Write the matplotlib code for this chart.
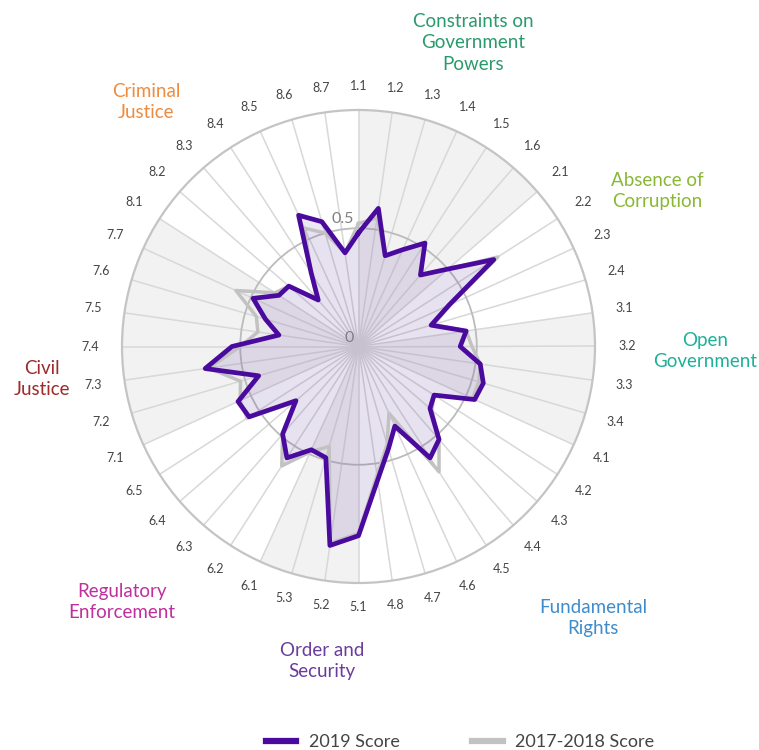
import numpy as np
import matplotlib
matplotlib.use('Agg')
import matplotlib.pyplot as plt
from matplotlib.lines import Line2D

plt.rcParams['font.family'] = ['Lato', 'DejaVu Sans']

# ---------------- data ----------------
subfactors = ['1.1', '1.2', '1.3', '1.4', '1.5', '1.6',
              '2.1', '2.2', '2.3', '2.4',
              '3.1', '3.2', '3.3', '3.4',
              '4.1', '4.2', '4.3', '4.4', '4.5', '4.6', '4.7', '4.8',
              '5.1', '5.2', '5.3',
              '6.1', '6.2', '6.3', '6.4', '6.5',
              '7.1', '7.2', '7.3', '7.4', '7.5', '7.6', '7.7',
              '8.1', '8.2', '8.3', '8.4', '8.5', '8.6', '8.7']

score_2019 = [0.48, 0.59, 0.40, 0.45, 0.52, 0.40,
              0.50, 0.68, 0.42, 0.32,
              0.46, 0.43, 0.52, 0.55,
              0.54, 0.38, 0.40, 0.52, 0.56, 0.37, 0.45, 0.57,
              0.80, 0.85, 0.49,
              0.48, 0.56, 0.49, 0.35, 0.55,
              0.56, 0.44, 0.655, 0.535, 0.34, 0.41, 0.49,
              0.40, 0.39, 0.26, 0.37, 0.61, 0.55, 0.40]

score_2017_2018 = [0.52, 0.55, 0.40, 0.45, 0.52, 0.40,
                   0.50, 0.70, 0.43, 0.33,
                   0.46, 0.48, 0.52, 0.53,
                   0.53, 0.38, 0.41, 0.52, 0.63, 0.31, 0.43, 0.55,
                   0.79, 0.84, 0.44,
                   0.49, 0.60, 0.49, 0.36, 0.56,
                   0.55, 0.52, 0.64, 0.50, 0.43, 0.45, 0.57,
                   0.42, 0.39, 0.27, 0.37, 0.55, 0.50, 0.40]

factor_names = ['Constraints on\nGovernment\nPowers', 'Absence of\nCorruption',
                'Open\nGovernment', 'Fundamental\nRights', 'Order and\nSecurity',
                'Regulatory\nEnforcement', 'Civil\nJustice', 'Criminal\nJustice']
factor_colors = ['#2a9a6c', '#8ab833', '#1fb09a', '#3f8ccc',
                 '#6a3c9c', '#bf2f9e', '#9e2a2a', '#ef8b3c']

series_names = ['2019 Score', '2017-2018 Score']
series_colors = ['#4b0a9e', '#c2c2c2']

# ---------------- layout (pixels) ----------------
W, H = 759, 750
CX, CY, R = 358.5, 346.5, 236.5
factor_label_px = [(473, 43), (657, 191), (705, 351), (593, 618),
                   (322, 661), (122, 602), (42, 379), (146, 102)]

fig = plt.figure(figsize=(W / 100, H / 100), dpi=100)
ax = fig.add_axes([(CX - R) / W, 1 - (CY + R) / H, 2 * R / W, 2 * R / H],
                  projection='polar')
ax.set_theta_zero_location('N')
ax.set_theta_direction(-1)
ax.set_ylim(0, 1)

n = len(subfactors)
theta = np.arange(n) * 2 * np.pi / n
step = 2 * np.pi / n

# alternating factor bands
factor_ids = [s.split('.')[0] for s in subfactors]
unique_f = list(dict.fromkeys(factor_ids))
for k, f in enumerate(unique_f):
    idx = [i for i, g in enumerate(factor_ids) if g == f]
    if k % 2 == 0:
        ax.bar(theta[idx[0]], 1.0, width=len(idx) * step, align='edge',
               color='#f2f2f2', linewidth=0, zorder=0.2)

ax.set_xticks(theta)
ax.set_xticklabels([])
ax.set_yticks([0.5])
ax.set_yticklabels([])
ax.xaxis.grid(True, color='#d8d8d8', linewidth=1.1)
ax.yaxis.grid(True, color='#bbbbbb', linewidth=1.3)
ax.spines['polar'].set_color('#c4c4c4')
ax.spines['polar'].set_linewidth(1.6)
ax.tick_params(axis='both', length=0)

th_c = np.append(theta, theta[0])
s17 = np.append(score_2017_2018, score_2017_2018[0])
s19 = np.append(score_2019, score_2019[0])

ax.fill(th_c, s17, color='#9a9a9a', alpha=0.05, zorder=2, linewidth=0)
ax.fill(th_c, s19, color='#6a3cb0', alpha=0.12, zorder=2, linewidth=0)
ax.plot(th_c, s17, color=series_colors[1], linewidth=2.5, zorder=3)
ax.plot(th_c, s19, color=series_colors[0], linewidth=3.4, zorder=4)

# sub-factor labels
for t, lab in zip(theta, subfactors):
    r = 1.1 + 0.035 * abs(np.sin(t))
    ax.text(t, r, lab, ha='center', va='center', fontsize=9, color='#444444')

# radial labels
for rv, txt in [(0.0, '0'), (0.5, '0.5')]:
    ax.annotate(txt, xy=(0, rv), xytext=(-5, 2), textcoords='offset pixels',
                ha='right', va='bottom', fontsize=11.5, color='#7f7f7f', zorder=5)

# factor labels
for name, col, (px, py) in zip(factor_names, factor_colors, factor_label_px):
    fig.text(px / W, 1 - py / H, name, ha='center', va='center',
             fontsize=13.5, color=col, linespacing=1.35)

# legend
handles = [Line2D([0], [0], color=c, linewidth=4.5) for c in series_colors]
leg = fig.legend(handles, series_names, loc='center',
                 bbox_to_anchor=(460 / W, 1 - 742 / H), ncol=2, frameon=False,
                 fontsize=13, handlelength=1.7, handletextpad=0.7,
                 columnspacing=4.0)
for t in leg.get_texts():
    t.set_color('#444444')

fig.savefig('out.png', dpi=100, facecolor='white')
